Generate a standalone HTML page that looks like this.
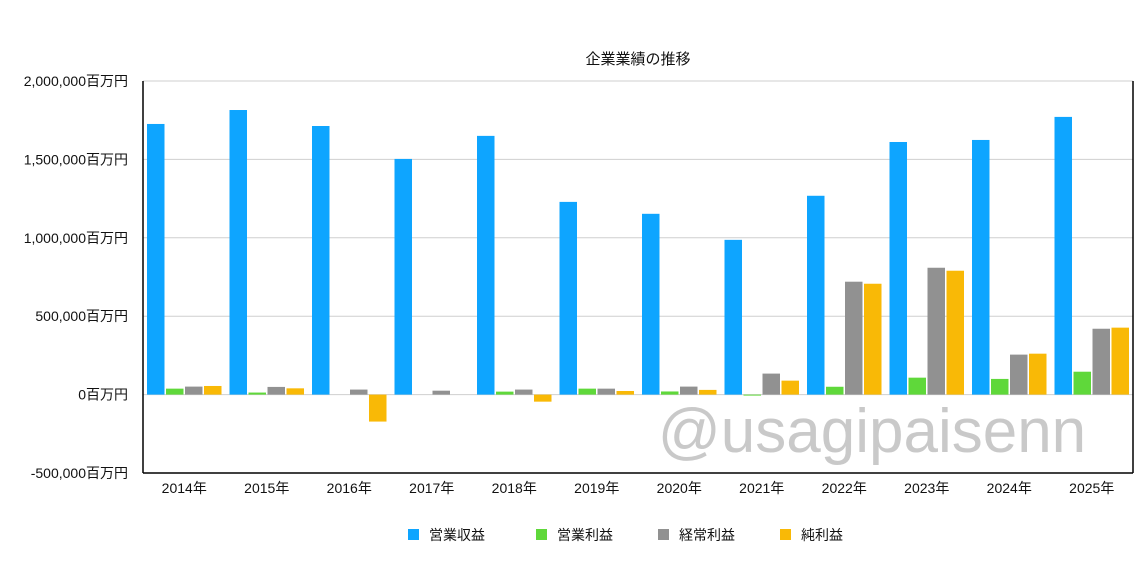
<!DOCTYPE html>
<html><head><meta charset="utf-8"><style>
body{margin:0;background:#fff;font-family:"Liberation Sans","Noto Sans CJK JP",sans-serif;}
svg text{font-family:"Liberation Sans","Noto Sans CJK JP",sans-serif;}
</style></head><body>
<svg id="chart" width="1139" height="569" viewBox="0 0 1139 569" xmlns="http://www.w3.org/2000/svg">
<rect width="1139" height="569" fill="#fff"/>
<text x="638" y="64" text-anchor="middle" font-size="15" fill="#111">企業業績の推移</text>
<g id="grid"></g>
<g id="bars"></g>
<g id="axes"></g>
<text x="872" y="452" text-anchor="middle" font-size="62" fill="#c4c4c4" opacity="0.9">@usagipaisenn</text>
<g id="legend"></g>
</svg>
<script>
const categories=["2014年","2015年","2016年","2017年","2018年","2019年","2020年","2021年","2022年","2023年","2024年","2025年"];
const revenue=[1726000,1815000,1713000,1503000,1650000,1229000,1153000,987000,1268000,1611000,1624000,1771000];
const opProfit=[38000,13000,0,0,19000,38000,20000,-5000,50000,108000,100000,146000];
const ordProfit=[51000,49000,32000,25000,32000,38000,51000,134000,720000,809000,255000,420000];
const netProfit=[55000,40000,-172000,0,-45000,23000,30000,89000,707000,790000,261000,427000];
const yTicks=[-500000,0,500000,1000000,1500000,2000000];
const yTickLabels=["-500,000百万円","0百万円","500,000百万円","1,000,000百万円","1,500,000百万円","2,000,000百万円"];
const seriesNames=["営業収益","営業利益","経常利益","純利益"];
const series=[revenue,opProfit,ordProfit,netProfit];
const colors=["#0ea5ff","#5fd83a","#919191","#f9b906"];
const NS="http://www.w3.org/2000/svg";
const X0=143,X1=1133,Y0=81,Y1=473,vmin=-500000,vmax=2000000;
const y=v=>Y1-(v-vmin)/(vmax-vmin)*(Y1-Y0);
const gw=(X1-X0)/categories.length;
const xg=i=>X0+i*gw;
function mk(tag,attrs,parent){const e=document.createElementNS(NS,tag);for(const k in attrs)e.setAttribute(k,attrs[k]);parent.appendChild(e);return e;}
const grid=document.getElementById('grid'),bars=document.getElementById('bars'),axes=document.getElementById('axes'),legend=document.getElementById('legend');
yTicks.forEach((t,i)=>{
  const l=mk('line',{x1:X0,x2:X1,y1:y(t),y2:y(t),stroke:"#cfcfcf","stroke-width":1},grid);
  
  
  const tx=mk('text',{x:128,y:y(t)+5,"text-anchor":"end","font-size":14,fill:"#111"},axes);
  tx.textContent=yTickLabels[i];
  
  
});
const bw=17.5,gap=1.5,pad=(gw-4*bw-3*gap)/2;
categories.forEach((c,i)=>{
  series.forEach((s,j)=>{
    const v=s[i];if(v===0)return;
    const bx=xg(i)+pad+j*(bw+gap);
    const top=Math.min(y(v),y(0)),h=Math.abs(y(v)-y(0));
    const r=mk('rect',{x:bx,y:top,width:bw,height:Math.max(h,1),fill:colors[j]},bars);
    
    
  });
  const tx=mk('text',{x:xg(i)+gw/2,y:493,"text-anchor":"middle","font-size":14,fill:"#111"},axes);
  tx.textContent=c;
  
  
});
const ax=mk('line',{x1:X0,x2:X0,y1:Y0,y2:Y1,stroke:"#000","stroke-width":1.5},axes);


const ax2=mk('line',{x1:X1,x2:X1,y1:Y0,y2:Y1,stroke:"#000","stroke-width":1.5},axes);


const ax3=mk('line',{x1:X0,x2:X1,y1:Y1,y2:Y1,stroke:"#000","stroke-width":1.5},axes);


const lx=[408,536,658,780];
seriesNames.forEach((n,j)=>{
  const r=mk('rect',{x:lx[j],y:529,width:11,height:11,fill:colors[j]},legend);
  
  
  const t=mk('text',{x:lx[j]+21,y:540,"font-size":14,fill:"#111"},legend);
  t.textContent=n;
  
  
});
</script>
</body></html>
